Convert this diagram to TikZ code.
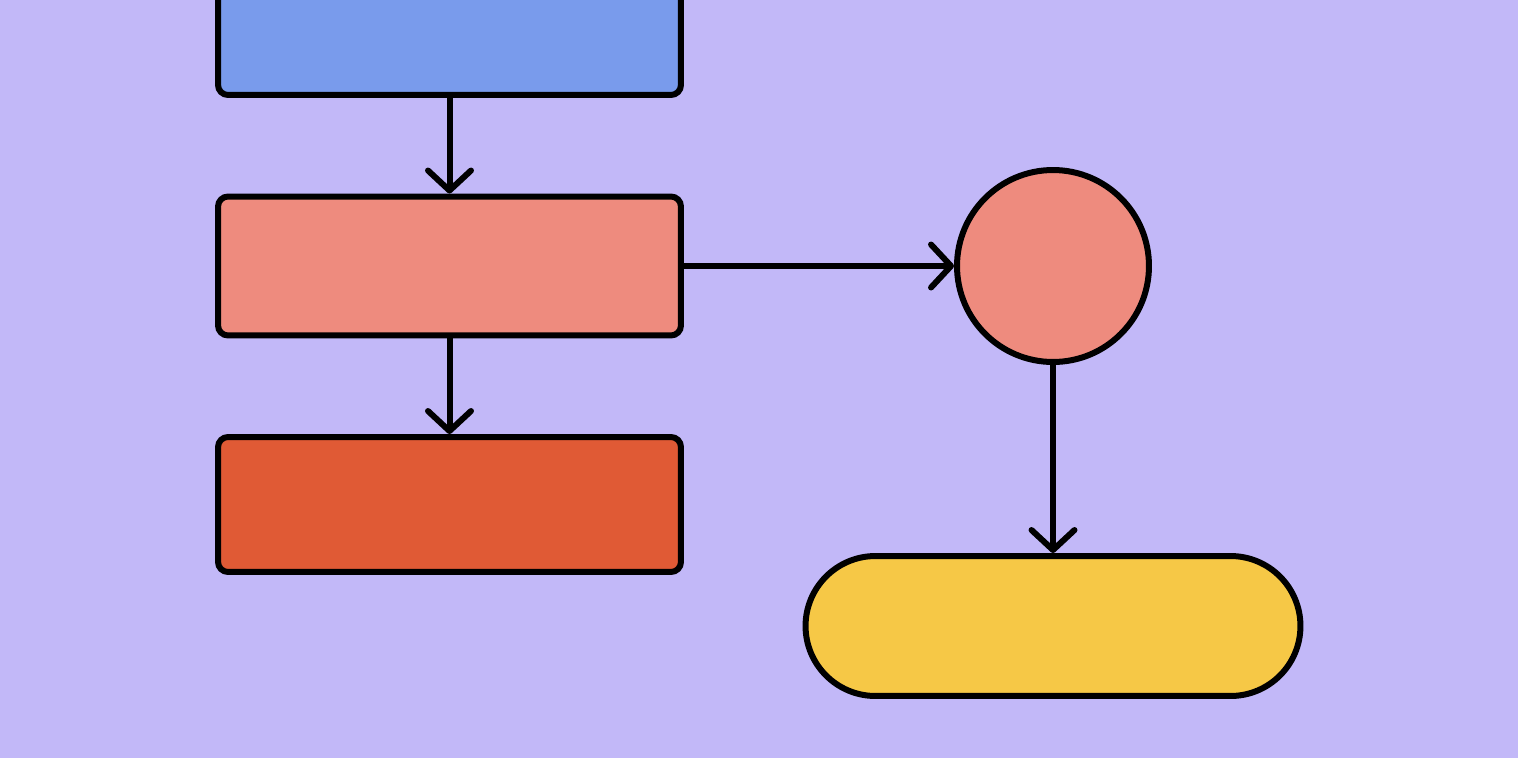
\documentclass[tikz,border=0pt]{standalone}
\usepackage{tikz}
\usetikzlibrary{arrows.meta,positioning}

\definecolor{lilac}{HTML}{C2B8F8}
\definecolor{skyblue}{HTML}{799BEC}
\definecolor{salmon}{HTML}{EE8B7E}
\definecolor{brick}{HTML}{E05A35}
\definecolor{mustard}{HTML}{F6C846}

\begin{document}
\begin{tikzpicture}[x=0.02cm, y=-0.02cm,
box/.style={rectangle, draw, line width=0.12cm, rounded corners=0.2cm, minimum width=9.26cm, minimum height=2.78cm},
ball/.style={circle, draw, line width=0.12cm, minimum size=3.84cm, inner sep=0pt},
pill/.style={rectangle, draw, line width=0.12cm, rounded corners=1.4cm, minimum width=9.9cm, minimum height=2.8cm},
flow/.style={-{Straight Barb[length=0.4cm, width=0.86cm, line cap=round, line join=round]}, line width=0.12cm}
]
\useasboundingbox (0,0) rectangle (1518,758);
\clip (0,0) rectangle (1518,758);
\fill[lilac] (0,0) rectangle (1518,758);
\node[box, fill=skyblue] (start) at (449.5,25.5) {};
\node[box, fill=salmon] (check) at (449.5,266) {};
\node[box, fill=brick, minimum height=2.7cm] (stop) at (449.5,504.5) {};
\node[ball, fill=salmon] (choice) at (1053,266) {};
\node[pill, fill=mustard] (finish) at (1053,626) {};
\draw[flow] (start) -- (check);
\draw[flow] (check) -- (stop);
\draw[flow] (check.east) -- (choice.west);
\draw[flow] (choice.south) -- (finish.north);
\end{tikzpicture}
\end{document}
